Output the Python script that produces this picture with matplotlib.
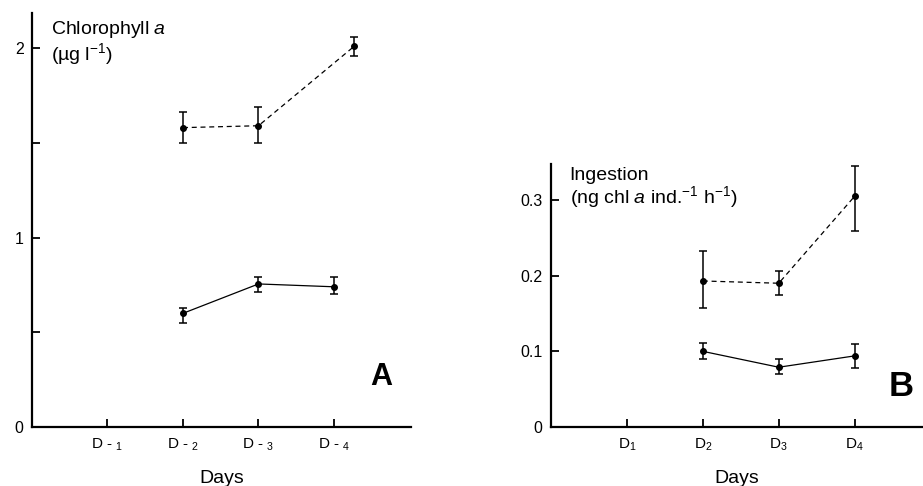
import matplotlib
matplotlib.use("Agg")
from matplotlib import pyplot as plt
from matplotlib.ticker import FixedLocator, FuncFormatter

plt.rcParams['font.family'] = ['Liberation Sans', 'DejaVu Sans']
plt.rcParams['mathtext.fontset'] = 'custom'
plt.rcParams['mathtext.rm'] = 'Liberation Sans'
plt.rcParams['mathtext.it'] = 'Liberation Sans:italic'

# A: chlorophyll a (ug/l)
chl_x = [2, 3, 4.27]
chl_dash = [1.58, 1.59, 2.01]
chl_dash_lo = [1.50, 1.50, 1.96]
chl_dash_hi = [1.66, 1.69, 2.06]
chl_solid_x = [2, 3, 4]
chl_solid = [0.60, 0.755, 0.74]
chl_solid_lo = [0.55, 0.71, 0.70]
chl_solid_hi = [0.63, 0.79, 0.79]
a_ticks = ['D - $_1$', 'D - $_2$', 'D - $_3$', 'D - $_4$']

# B: ingestion (ng chl a ind-1 h-1)
ing_x = [2, 3, 4]
ing_dash = [0.193, 0.19, 0.305]
ing_dash_lo = [0.157, 0.174, 0.259]
ing_dash_hi = [0.232, 0.206, 0.345]
ing_solid = [0.10, 0.079, 0.094]
ing_solid_lo = [0.09, 0.07, 0.078]
ing_solid_hi = [0.111, 0.09, 0.11]
b_ticks = ['D$_1$', 'D$_2$', 'D$_3$', 'D$_4$']


def draw(ax, x, y, lo, hi, dashed):
    err = [[v - l for v, l in zip(y, lo)], [h - v for v, h in zip(y, hi)]]
    ax.errorbar(x, y, yerr=err, color='black', lw=0.9, elinewidth=1.1,
                capsize=3, capthick=1.1, marker='o', ms=4,
                ls=(0, (4, 3)) if dashed else '-')


def style(ax):
    for s in ['top', 'right']:
        ax.spines[s].set_visible(False)
    for s in ['left', 'bottom']:
        ax.spines[s].set_linewidth(1.6)
    ax.tick_params(direction='in', length=5.5, width=1.3, labelsize=11.5, pad=6)
    ax.tick_params(axis='x', labelsize=11, pad=7)
    ax.set_xlabel('Days', fontsize=14, labelpad=12)


fig = plt.figure(figsize=(9.23, 4.86), dpi=100)

# panel A
ax1 = fig.add_axes([32 / 923, 59 / 486, 379 / 923, 414 / 486])
draw(ax1, chl_x, chl_dash, chl_dash_lo, chl_dash_hi, True)
draw(ax1, chl_solid_x, chl_solid, chl_solid_lo, chl_solid_hi, False)
ax1.set_xlim(0, 5.02)
ax1.set_ylim(0, 2.185)
ax1.yaxis.set_major_locator(FixedLocator([0, 0.5, 1, 1.5, 2]))
ax1.yaxis.set_major_formatter(FuncFormatter(lambda v, p: '%d' % v if v == int(v) else ''))
ax1.set_xticks([1, 2, 3, 4])
ax1.set_xticklabels(a_ticks)
style(ax1)
ax1.text(0.05, 0.985, 'Chlorophyll $\\mathit{a}$\n(µg l$^{-1}$)', transform=ax1.transAxes,
         fontsize=14, va='top', ha='left', linespacing=1.05)
ax1.text(0.95, 0.085, 'A', transform=ax1.transAxes, fontsize=22, fontweight='bold',
         ha='right', va='bottom')

# panel B
ax2 = fig.add_axes([551 / 923, 59 / 486, 372 / 923, 263 / 486])
draw(ax2, ing_x, ing_dash, ing_dash_lo, ing_dash_hi, True)
draw(ax2, ing_x, ing_solid, ing_solid_lo, ing_solid_hi, False)
ax2.set_xlim(0, 4.9)
ax2.set_ylim(0, 0.3476)
ax2.set_yticks([0, 0.1, 0.2, 0.3])
ax2.yaxis.set_major_formatter(FuncFormatter(lambda v, p: '0' if v == 0 else '%.1f' % v))
ax2.set_xticks([1, 2, 3, 4])
ax2.set_xticklabels(b_ticks)
style(ax2)
ax2.text(0.05, 0.99, 'Ingestion\n(ng chl $\\mathit{a}$ ind.$^{-1}$ h$^{-1}$)',
         transform=ax2.transAxes, fontsize=14, va='top', ha='left', linespacing=1.05)
ax2.text(0.976, 0.09, 'B', transform=ax2.transAxes, fontsize=25, fontweight='bold',
         ha='right', va='bottom')

plt.savefig('out.png', dpi=100)
